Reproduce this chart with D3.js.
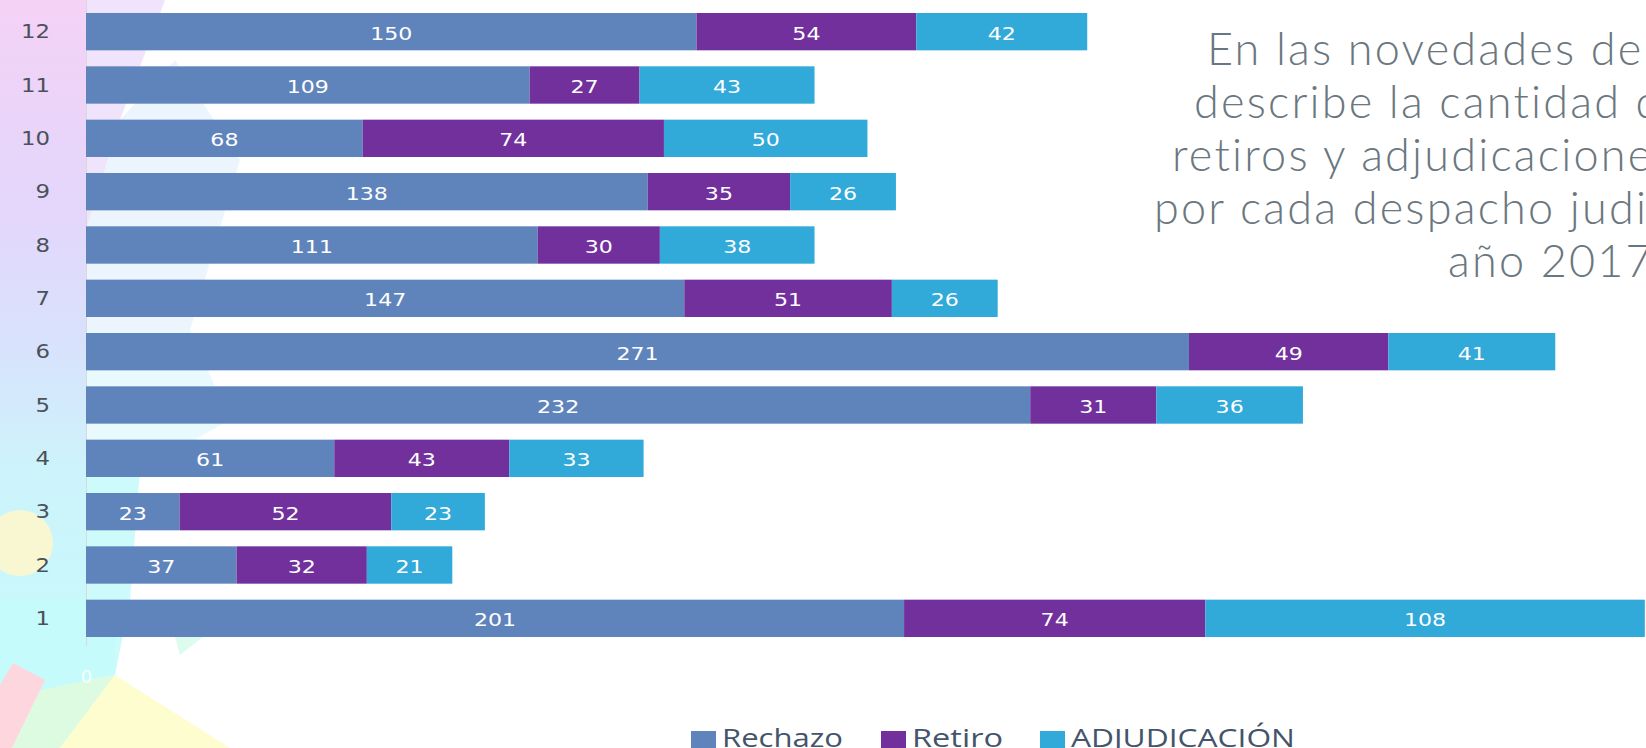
<!DOCTYPE html>
<html>
<head>
<meta charset="utf-8">
<script src="https://cdn.jsdelivr.net/npm/d3@7"></script>
<style>
  html, body { margin: 0; padding: 0; background: #ffffff; overflow: hidden; }
  svg { display: block; }
</style>
</head>
<body>
<svg id="chart" width="1646" height="748"></svg>
<script>
// ---- data ----
const categories = ["1","2","3","4","5","6","7","8","9","10","11","12"];
const rechazo      = [201, 37, 23, 61, 232, 271, 147, 111, 138, 68, 109, 150];
const retiro       = [ 74, 32, 52, 43,  31,  49,  51,  30,  35, 74,  27,  54];
const adjudicacion = [108, 21, 23, 33,  36,  41,  26,  38,  26, 50,  43,  42];
const seriesNames  = ["Rechazo", "Retiro", "ADJUDICACIÓN"];
const seriesKeys   = ["rechazo", "retiro", "adjudicacion"];
const xTicks       = [0, 50, 100, 150, 200, 250, 300, 350];
const noteLines    = ["En las novedades de", "describe la cantidad de", "retiros y adjudicaciones", "por cada despacho judicial", "año 2017."];

// ---- styles ----
const colors = {rechazo: "#5f84bb", retiro: "#71309b", adjudicacion: "#31a9d9"};
const W = 1646, H = 748;
const svg = d3.select("#chart");

// ---- background decoration ----
const defs = svg.append("defs");
const lg = defs.append("linearGradient").attr("id", "leftGrad").attr("x1", 0).attr("y1", 0).attr("x2", 0).attr("y2", 1);
[[0, "#f4d2f6"], [0.3, "#e4d6fb"], [0.5, "#d8e2fc"], [0.68, "#cdf3fb"], [1, "#c6fbfb"]].forEach(s =>
  lg.append("stop").attr("offset", s[0]).attr("stop-color", s[1]));
const bg = svg.append("g");
bg.append("rect").attr("x", 0).attr("y", 0).attr("width", 86).attr("height", 690).attr("fill", "url(#leftGrad)");
bg.append("polygon").attr("points", "86,0 165,0 120,120 86,230").attr("fill", "#ecdcfb").attr("opacity", 0.8);
bg.append("polygon").attr("points", "86,230 120,120 175,60 240,160 190,330 86,330").attr("fill", "#e0ecfd").attr("opacity", 0.6);
bg.append("polygon").attr("points", "86,330 190,330 230,420 140,470 86,470").attr("fill", "#d8f7fb").attr("opacity", 0.6);
bg.append("polygon").attr("points", "86,470 140,470 130,600 115,675 86,680").attr("fill", "#c8fbfb").attr("opacity", 0.9);
bg.append("polygon").attr("points", "0,600 115,600 115,675 40,690 0,700").attr("fill", "#c6fbfb");
bg.append("polygon").attr("points", "165,600 250,600 180,655").attr("fill", "#d4fbe8").attr("opacity", 0.8);
bg.append("circle").attr("cx", 20).attr("cy", 543).attr("r", 33).attr("fill", "#f8f7d2");
bg.append("polygon").attr("points", "40,690 115,675 60,748 12,748").attr("fill", "#ddfbe0");
bg.append("polygon").attr("points", "115,675 230,748 60,748").attr("fill", "#fdfdd0");
bg.append("polygon").attr("points", "13,663 45,680 12,748 0,748 0,685").attr("fill", "#fdd6de");

// ---- scales ----
const x = d3.scaleLinear().domain([0, 400]).range([86, 86 + 4.07 * 400]);
const y = d3.scaleBand().domain(categories.slice().reverse()).range([5, 645]).paddingInner(0.3).paddingOuter(0.15);

const table = categories.map((c, i) => ({cat: c, rechazo: rechazo[i], retiro: retiro[i], adjudicacion: adjudicacion[i]}));
const stacked = d3.stack().keys(seriesKeys)(table);

// ---- y axis line & labels ----
svg.append("line").attr("x1", 86.5).attr("x2", 86.5).attr("y1", 0).attr("y2", 646)
  .attr("stroke", "#d9d9d9").attr("stroke-width", 1);
const yAxis = d3.axisLeft(y).tickSize(0).tickPadding(0);
const yg = svg.append("g").attr("transform", "translate(50,0)").call(yAxis);
yg.select(".domain").remove();
yg.selectAll("text")
  .attr("font-family", "DejaVu Sans, sans-serif").attr("font-size", 19)
  .attr("fill", "#4a5158").attr("text-anchor", "end").attr("dy", "0.35em")
  .attr("transform", "scale(1.2,1)");

// ---- bars ----
const layers = svg.append("g").selectAll("g").data(stacked).join("g")
  .attr("fill", d => colors[d.key]);
layers.selectAll("rect").data(d => d).join("rect")
  .attr("x", d => x(d[0]))
  .attr("y", d => y(d.data.cat))
  .attr("width", d => x(d[1]) - x(d[0]))
  .attr("height", y.bandwidth());

// ---- data labels ----
const lbl = svg.append("g");
stacked.forEach(layer => {
  layer.forEach(d => {
    const cx = (x(d[0]) + x(d[1])) / 2;
    const cy = y(d.data.cat) + y.bandwidth() / 2 + 8;
    lbl.append("text")
      .attr("transform", `translate(${cx},${cy}) scale(1.3,1)`)
      .attr("text-anchor", "middle")
      .attr("font-family", "DejaVu Sans, sans-serif").attr("font-size", 17)
      .attr("fill", "#ffffff")
      .text(d[1] - d[0]);
  });
});

// ---- x axis tick labels (white, faint) ----
const xAxis = d3.axisBottom(x).tickValues(xTicks).tickSize(0).tickPadding(0);
const xg = svg.append("g").attr("transform", "translate(0,670)").call(xAxis);
xg.select(".domain").remove();
xg.selectAll("text").attr("font-family", "DejaVu Sans, sans-serif").attr("font-size", 18)
  .attr("fill", "#ffffff").attr("opacity", 0.9);

// ---- note text on the right ----
const noteX = [1207, 1194, 1172, 1154, 1448];
const note = svg.append("g");
noteLines.forEach((t, i) => {
  note.append("text").attr("x", noteX[i]).attr("y", 65 + 53 * i)
    .attr("font-family", "Lato, sans-serif").attr("font-weight", 300).attr("font-size", 45)
    .attr("letter-spacing", 2.2)
    .attr("fill", "#6b7780").text(t);
});

// ---- legend ----
const legendX = [691, 881, 1040];
const legendLen = [121, 91, 224];
const leg = svg.append("g");
seriesKeys.forEach((k, i) => {
  leg.append("rect").attr("x", legendX[i]).attr("y", 731).attr("width", 25).attr("height", 20).attr("fill", colors[k]);
  leg.append("text").attr("x", legendX[i] + 31).attr("y", 747)
    .attr("font-family", "Open Sans, sans-serif").attr("font-size", 26)
    .attr("textLength", legendLen[i]).attr("lengthAdjust", "spacingAndGlyphs")
    .attr("fill", "#44546a").text(seriesNames[i]);
});
</script>
</body>
</html>
